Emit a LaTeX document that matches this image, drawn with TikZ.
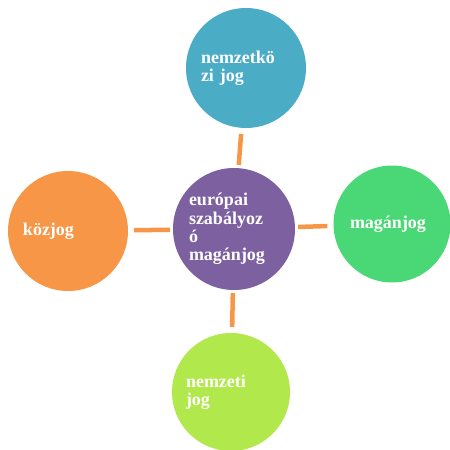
\documentclass[tikz,border=0pt]{standalone}
\usepackage{fontspec}
\setmainfont{Liberation Serif}
\definecolor{cpurple}{HTML}{7D60A0}
\definecolor{cteal}{HTML}{4BACC6}
\definecolor{corange}{HTML}{F79646}
\definecolor{cgreen}{HTML}{4AD775}
\definecolor{clime}{HTML}{B1E84C}
\definecolor{clink}{HTML}{F79646}
\tikzset{
  bubble/.style={circle, draw=none, minimum size=#1, inner sep=0pt,
    text width=90pt, align=left, text=white,
    font=\fontsize{18}{18.2}\selectfont\bfseries},
  link/.style={draw=clink, line width=4.5pt, shorten <=3pt, shorten >=6pt}
}
\begin{document}
\begin{tikzpicture}[x=1pt,y=-1pt]
\useasboundingbox (0,0) rectangle (450,450);
\node[bubble=122pt, fill=cpurple] (c) at (234,229) {európai\\szabályoz\\ó\\magánjog};
\node[bubble=120pt, fill=cteal] (t) at (246,68) {nemzetkö\\zi jog};
\node[bubble=120pt, fill=corange] (l) at (68,231) {közjog};
\node[bubble=117pt, fill=cgreen] (r) at (392,224) {\hspace*{3pt}magánjog};
\node[bubble=118pt, fill=clime] (b) at (231,392) {nemzeti\\jog};
\draw[link] (c) -- (t);
\draw[link] (c) -- (l);
\draw[link] (c) -- (r);
\draw[link] (c) -- (b);
\end{tikzpicture}
\end{document}
